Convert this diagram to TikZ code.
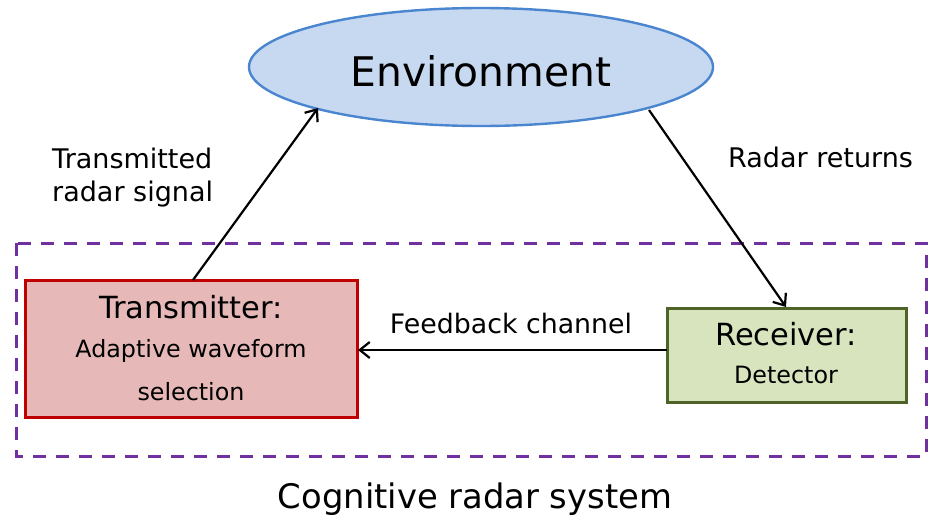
\documentclass[tikz,border=0pt]{standalone}
\usepackage{fontspec}
\setmainfont{DejaVu Sans}
\usetikzlibrary{shapes.geometric,arrows.meta}
\definecolor{envfill}{HTML}{C6D9F1}
\definecolor{envline}{HTML}{4A86D0}
\definecolor{txfill}{HTML}{E6B9B8}
\definecolor{txline}{HTML}{C00000}
\definecolor{rxfill}{HTML}{D7E4BD}
\definecolor{rxline}{HTML}{4F6228}
\definecolor{sysline}{HTML}{7030A0}
\tikzset{
  conn/.style={draw=black, line width=2.2pt, -{Straight Barb[length=10pt,width=16pt,line width=2.2pt]}},
  txtnode/.style={inner sep=0pt, anchor=base},
  lbl/.style={txtnode, font=\fontsize{27}{32}\selectfont},
  head/.style={txtnode, font=\fontsize{30.5}{36}\selectfont},
  sub/.style={txtnode, font=\fontsize{23.8}{28}\selectfont},
}
\begin{document}
\begin{tikzpicture}[x=1pt,y=-1pt]
\useasboundingbox (0,0) rectangle (931,525);
\fill[white] (0,0) rectangle (931,525);
% system boundary
\draw[sysline, line width=3pt, dash pattern=on 13pt off 10pt] (16,243) rectangle (926,456);
% environment
\node (env) [ellipse, draw=envline, fill=envfill, line width=2.4pt, minimum width=464pt, minimum height=118pt, inner sep=0pt] at (481,67) {};
\node (envt) [txtnode, font=\fontsize{40.8}{48}\selectfont] at (481,86) {Environment};
% transmitter
\node (tx) [draw=txline, fill=txfill, line width=3pt, minimum width=332pt, minimum height=137pt, inner sep=0pt] at (191.5,349) {};
\node (txh) [head] at (191,318) {Transmitter:};
\node (txs1) [sub] at (191,357) {Adaptive waveform};
\node (txs2) [sub] at (191,400) {selection};
% receiver
\node (rx) [draw=rxline, fill=rxfill, line width=3pt, minimum width=239pt, minimum height=94pt, inner sep=0pt] at (786.5,355) {};
\node (rxh) [head] at (786,345) {Receiver:};
\node (rxs) [sub] at (786,383) {Detector};
% connectors
\coordinate (txtop) at (193,280);
\coordinate (envl) at (318,108);
\coordinate (envr) at (649,110);
\coordinate (rxtop) at (786,307);
\coordinate (rxl) at (667,350);
\coordinate (txr) at (358,350);
\draw[conn] (txtop) -- (envl);
\draw[conn] (envr) -- (rxtop);
\draw[conn] (rxl) -- (txr);
% labels
\node (l1a) [lbl, anchor=base west] at (52,168) {Transmitted};
\node (l1b) [lbl, anchor=base west] at (52,201) {radar signal};
\node (l2) [lbl, anchor=base west] at (728,167) {Radar returns};
\node (l3) [lbl, font=\fontsize{26.8}{32}\selectfont] at (511,333) {Feedback channel};
\node (l4) [txtnode, font=\fontsize{33.8}{40}\selectfont] at (475,508) {Cognitive radar system};
\end{tikzpicture}
\end{document}
